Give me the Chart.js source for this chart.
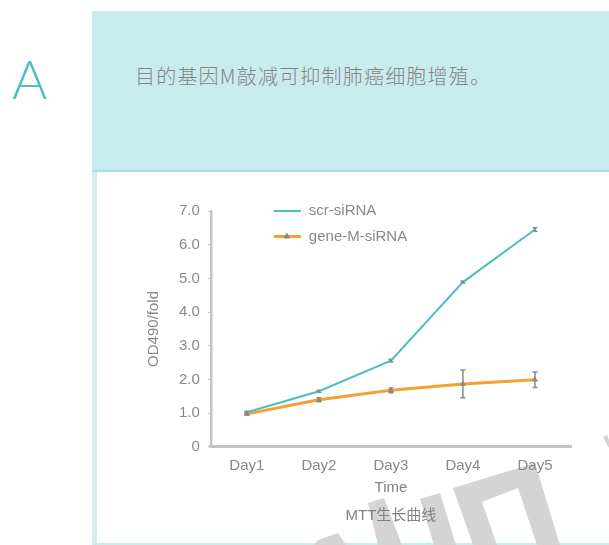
<!DOCTYPE html>
<html>
<head>
<meta charset="utf-8">
<script src="https://cdn.jsdelivr.net/npm/chart.js@4.4.1/dist/chart.umd.min.js"></script>
<style>
  html, body { margin: 0; padding: 0; background: #fff; }
  body { position: relative; width: 609px; height: 545px; overflow: hidden; font-family: "Liberation Sans", Arial, sans-serif; }
  .letter { position: absolute; left: 12px; top: 47px; font: 300 54px Lato, "Open Sans", sans-serif; color: #4dbfbf; line-height: 64px; }
  .banner { position: absolute; left: 92px; top: 11px; width: 517px; height: 159px; background: #c8ebeb; border-bottom: 2px solid #acdcdc; }
  .banner p { position: absolute; left: 43px; top: 51px; margin: 0; font: 300 20px "Noto Sans CJK SC", sans-serif; color: #858585; letter-spacing: 1.2px; line-height: 28px; }
  .panel { position: absolute; left: 92px; top: 172px; width: 517px; height: 373px; background: #fff; border-left: 5px solid #d2eeee; border-bottom: 2px solid #c8ebeb; box-sizing: border-box; }
  svg.mark { position: absolute; left: 0; top: 0; }
  #wrap { position: absolute; left: 97px; top: 173px; width: 512px; height: 370px; }
</style>
</head>
<body>
<div class="letter">A</div>
<div class="banner"><p>目的基因M敲减可抑制肺癌细胞增殖。</p></div>
<div class="panel"></div>
<svg class="mark" width="609" height="545">
  <g fill="#d4d4d4">
    <polygon points="314,545 318,540 338,533 346,545"/>
    <polygon points="368,503 384,498 402,545 378,545"/>
    <polygon points="420,499 440,493 456,545 434,545"/>
    <polygon points="453,488 535,463 560,545 537,545 518,488 482,502 497,545 473,545"/>
    <polygon points="603,437 607,435 609,440 609,448"/>
  </g>
</svg>
<div id="wrap"><canvas id="mtt"></canvas></div>
<script>
const days = ["Day1", "Day2", "Day3", "Day4", "Day5"];
const scrMean = [1.03, 1.65, 2.56, 4.89, 6.45];
const scrSd = [0.03, 0.03, 0.04, 0.03, 0.05];
const geneMean = [0.98, 1.40, 1.68, 1.87, 1.99];
const geneSd = [0.03, 0.06, 0.07, 0.41, 0.23];
const seriesNames = ["scr-siRNA", "gene-M-siRNA"];

const sdList = [scrSd, geneSd];
const grey = "#888";
const axisGrey = "#c4c4c4";

// error bars under the lines
const errorBars = {
  id: "errorBars",
  beforeDatasetsDraw(chart) {
    const { ctx, scales: { x, y } } = chart;
    ctx.save();
    ctx.strokeStyle = "#8a8a8a";
    ctx.lineWidth = 1.5;
    chart.data.datasets.forEach((ds, i) => {
      sdList[i].forEach((sd, j) => {
        const px = x.getPixelForValue(j);
        const top = y.getPixelForValue(ds.data[j] + sd);
        const bot = y.getPixelForValue(ds.data[j] - sd);
        ctx.beginPath();
        ctx.moveTo(px, top); ctx.lineTo(px, bot);
        ctx.moveTo(px - 2.5, top); ctx.lineTo(px + 2.5, top);
        ctx.moveTo(px - 2.5, bot); ctx.lineTo(px + 2.5, bot);
        ctx.stroke();
      });
    });
    ctx.restore();
  }
};

// legend stacked inside the plot, top left
const insideLegend = {
  id: "insideLegend",
  afterDraw(chart) {
    const { ctx, chartArea } = chart;
    const x0 = chartArea.left + 63;
    ctx.save();
    chart.data.datasets.forEach((ds, i) => {
      const yy = chartArea.top + i * 25.5;
      ctx.strokeStyle = ds.borderColor;
      ctx.lineWidth = ds.borderWidth;
      ctx.beginPath();
      ctx.moveTo(x0, yy);
      ctx.lineTo(x0 + 27, yy);
      ctx.stroke();
      if (ds.pointStyle === "triangle") {
        ctx.fillStyle = grey;
        Chart.helpers.drawPoint(ctx, { pointStyle: "triangle", radius: 4, rotation: 0, borderWidth: 0 }, x0 + 13, yy);
      }
      ctx.fillStyle = grey;
      ctx.font = "15px 'Liberation Sans', Arial, sans-serif";
      ctx.textAlign = "left";
      ctx.textBaseline = "middle";
      ctx.fillText(ds.label, x0 + 35, yy);
    });
    ctx.restore();
  }
};

new Chart(document.getElementById("mtt"), {
  type: "line",
  data: {
    labels: days,
    datasets: [
      {
        label: seriesNames[0],
        data: scrMean,
        borderColor: "#4cbfbd",
        borderWidth: 2,
        pointStyle: "rect",
        pointRadius: 1.5,
        pointBackgroundColor: grey,
        pointBorderWidth: 0,
        tension: 0
      },
      {
        label: seriesNames[1],
        data: geneMean,
        borderColor: "#f5a031",
        borderWidth: 3,
        pointStyle: "triangle",
        pointRadius: 3.5,
        pointBackgroundColor: grey,
        pointBorderWidth: 0,
        tension: 0
      }
    ]
  },
  options: {
    responsive: true,
    maintainAspectRatio: false,
    animation: false,
    layout: { padding: { left: 48, right: 38, top: 38, bottom: 13 } },
    scales: {
      x: {
        offset: true,
        grid: { drawOnChartArea: false, drawTicks: false },
        border: { color: axisGrey, width: 3 },
        ticks: { color: grey, font: { size: 15 }, padding: 10 },
        title: {
          display: true,
          text: ["Time", "MTT生长曲线"],
          color: "#828282",
          font: { size: 15, family: "'Liberation Sans', 'Noto Sans CJK SC', sans-serif", lineHeight: 1.87 },
          padding: { top: -11, bottom: 0 }
        }
      },
      y: {
        min: 0,
        max: 7,
        ticks: {
          stepSize: 1,
          color: grey,
          font: { size: 15 },
          padding: 8,
          callback: (v) => (v === 0 ? "0" : v.toFixed(1))
        },
        grid: { drawOnChartArea: false, tickLength: 3, color: axisGrey },
        border: { color: axisGrey, width: 2.5 },
        title: { display: true, text: "OD490/fold", color: grey, font: { size: 15 }, padding: { top: 0, bottom: 8 } }
      }
    },
    plugins: {
      legend: { display: false },
      tooltip: { enabled: false }
    }
  },
  plugins: [errorBars, insideLegend]
});
</script>
</body>
</html>
